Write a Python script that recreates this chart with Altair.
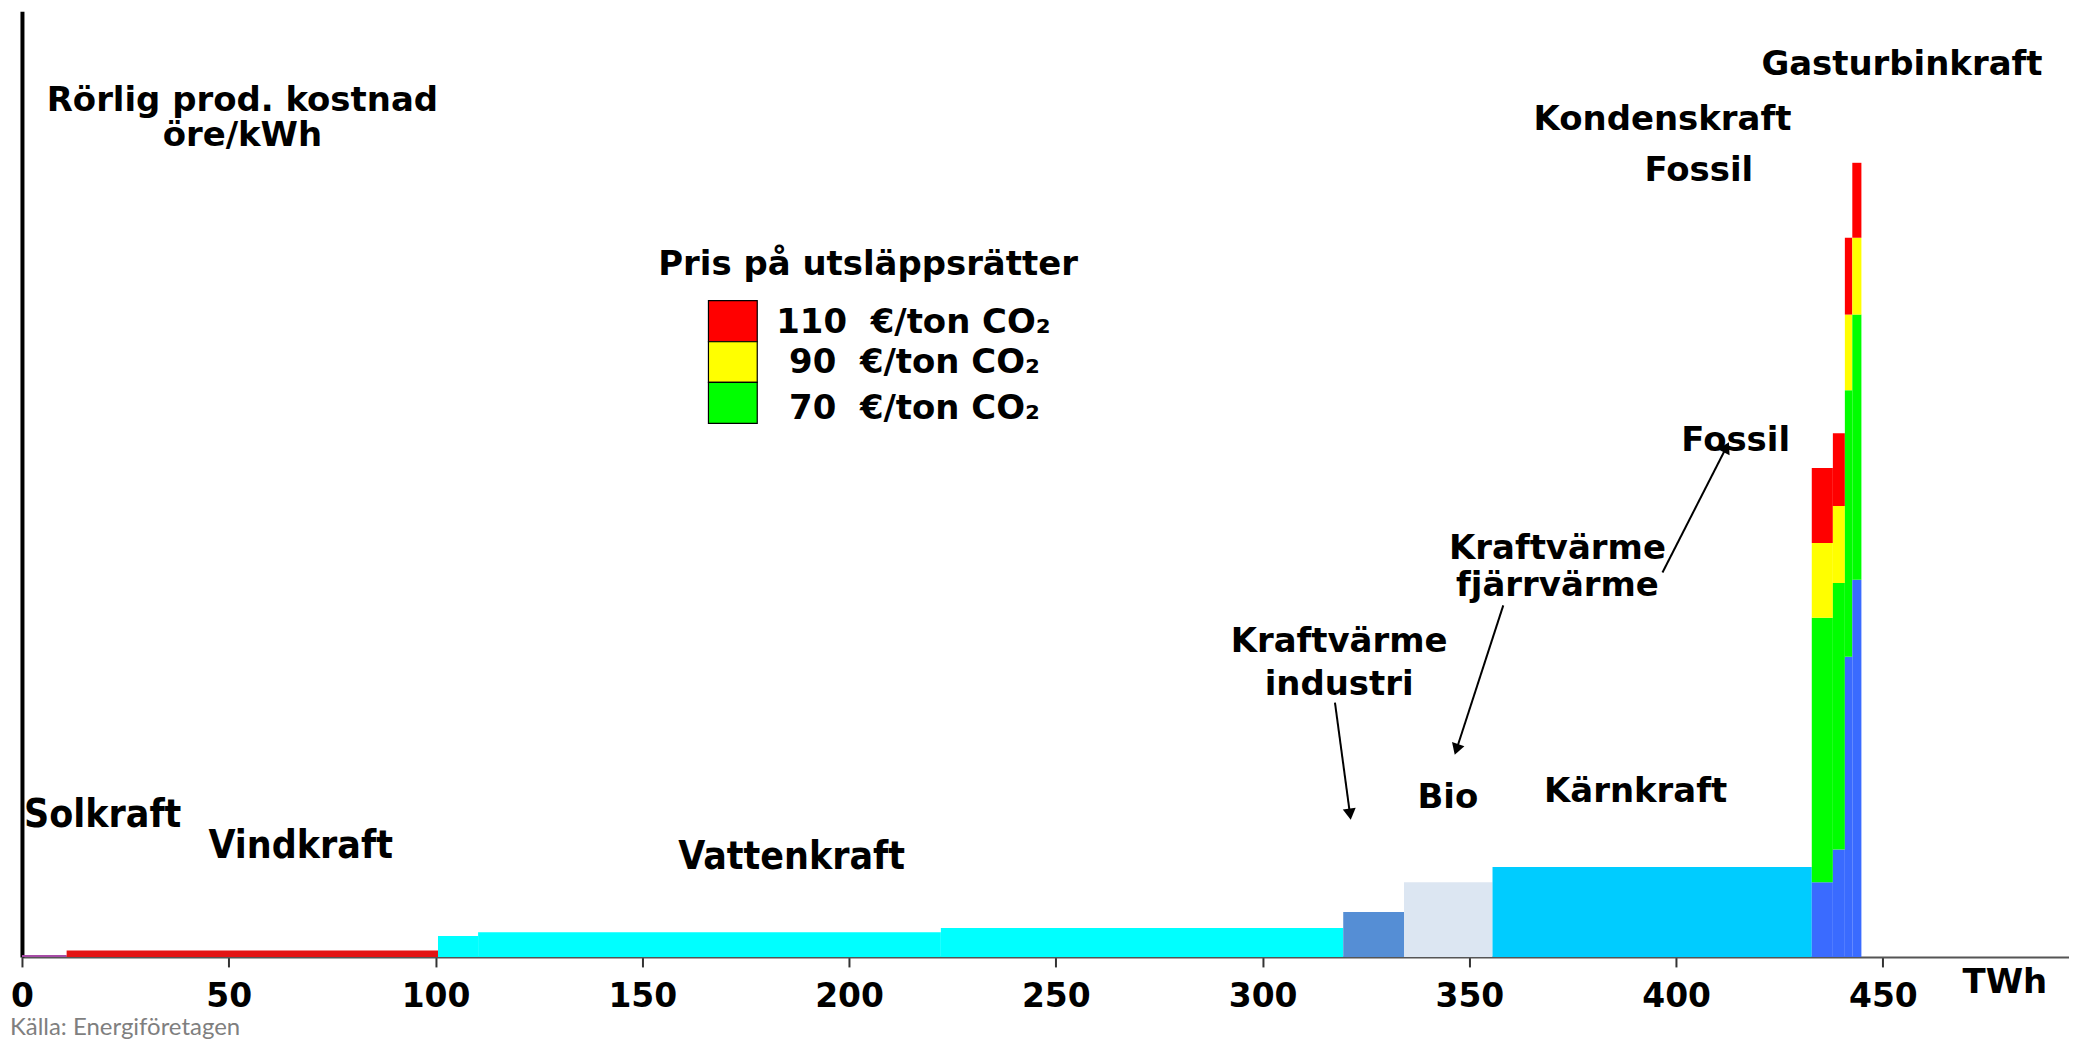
import math
import altair as alt
import pandas as pd

# ---------------- data ----------------
# Merit-order blocks: start / end (TWh) and variable production cost (öre/kWh)
block_names = ["Solkraft", "Vindkraft", "Vattenkraft", "Vattenkraft", "Vattenkraft",
               "Kraftvärme industri", "Bio", "Kärnkraft"]
block_start = [0.0, 10.8, 100.6, 110.3, 222.2, 319.5, 334.2, 355.6]
block_end = [10.8, 100.6, 110.3, 222.2, 319.5, 334.2, 355.6, 432.8]
block_cost = [0.8, 2.7, 8.9, 10.5, 12.2, 19.0, 31.6, 38.0]

# Fossil condensing / gas turbine steps: cost without CO2 and at three CO2 prices
fossil_start = [432.8, 437.9, 440.8, 442.6]
fossil_end = [437.9, 440.8, 442.6, 444.8]
fossil_base = [31.6, 45.4, 127.0, 159.5]
fossil_co2_70 = [143.5, 158.2, 239.7, 271.7]
fossil_co2_90 = [175.1, 190.7, 271.7, 304.2]
fossil_co2_110 = [206.8, 221.5, 304.2, 335.9]

x_ticks = [0, 50, 100, 150, 200, 250, 300, 350, 400, 450]

legend_title = "Pris på utsläppsrätter"
legend_labels = ["110\u00a0 €/ton CO₂", "90\u00a0 €/ton CO₂", "70\u00a0 €/ton CO₂"]

# ---------------- styles / layout ----------------
colors = {
    "Solkraft": "#a64ca6",
    "Vindkraft": "#e31414",
    "Vattenkraft": "#00ffff",
    "Kraftvärme industri": "#558ed5",
    "Bio": "#dce6f2",
    "Kärnkraft": "#00ccff",
    "base": "#3a6bff",
    "70": "#00ff00",
    "90": "#ffff00",
    "110": "#ff0000",
}

W, H = 2052, 948
XMAX, YMAX = 495, 400
PX_X = W / XMAX
PX_Y = H / YMAX

rows = []
for n, s, e, c in zip(block_names, block_start, block_end, block_cost):
    rows.append(dict(x=s, x2=e, y=0.0, y2=c, color=colors[n]))
for i in range(len(fossil_start)):
    levels = [(0.0, fossil_base[i], "base"), (fossil_base[i], fossil_co2_70[i], "70"),
              (fossil_co2_70[i], fossil_co2_90[i], "90"), (fossil_co2_90[i], fossil_co2_110[i], "110")]
    for lo, hi, k in levels:
        rows.append(dict(x=fossil_start[i], x2=fossil_end[i], y=lo, y2=hi, color=colors[k]))
rects = pd.DataFrame(rows)

# custom legend swatches (data coordinates)
leg_x0, leg_x1 = 166.0, 177.8
leg_edges = [277.6, 260.2, 243.0, 225.7]
leg_keys = ["110", "90", "70"]
legend_rects = pd.DataFrame([
    dict(x=leg_x0, x2=leg_x1, y=leg_edges[i + 1], y2=leg_edges[i], color=colors[k])
    for i, k in enumerate(leg_keys)
])

center_labels = pd.DataFrame([
    dict(t="Rörlig prod. kostnad", x=53.3, y=357.8),
    dict(t="öre/kWh", x=53.3, y=343.0),
    dict(t="Kraftvärme", x=318.5, y=129.1),
    dict(t="industri", x=318.5, y=111.0),
    dict(t="Bio", x=344.8, y=62.9),
    dict(t="Kärnkraft", x=390.2, y=65.4),
    dict(t="Kraftvärme", x=371.3, y=168.4),
    dict(t="fjärrvärme", x=371.3, y=152.7),
    dict(t="Fossil", x=414.4, y=213.9),
    dict(t="Gasturbinkraft", x=454.6, y=373.0),
    dict(t="Kondenskraft", x=396.7, y=349.8),
    dict(t="Fossil", x=405.5, y=328.3),
    dict(t=legend_title, x=204.6, y=288.6),
    dict(t="TWh", x=479.5, y=-15.2),
])

legend_text = pd.DataFrame([
    dict(t=legend_labels[0], x=182.4, y=263.7),
    dict(t=legend_labels[1], x=185.5, y=246.8),
    dict(t=legend_labels[2], x=185.5, y=227.4),
])

left_labels = pd.DataFrame([
    dict(t="Solkraft", x=0.5, y=54.9),
    dict(t="Vindkraft", x=45.1, y=41.8),
    dict(t="Vattenkraft", x=158.7, y=37.1),
])

source = pd.DataFrame([dict(t="Källa: Energiföretagen", x=-2.9, y=-33.2)])

# arrows: (x_from, y_from, x_to, y_to) in data units
arrow_list = [
    (317.5, 107.6, 321.3, 58.2),
    (358.2, 148.7, 346.5, 85.7),
    (396.7, 162.6, 412.7, 217.5),
]
arr_rows, head_rows = [], []
for x1, y1, x2, y2 in arrow_list:
    dxp = (x2 - x1) * PX_X
    dyp = -(y2 - y1) * PX_Y
    L = math.hypot(dxp, dyp)
    ux, uy = dxp / L, dyp / L
    back = 7.0
    hx = x2 - ux * back / PX_X
    hy = y2 + uy * back / PX_Y
    ang = math.degrees(math.atan2(dxp, -dyp)) % 360
    arr_rows.append(dict(x=x1, y=y1, x2=hx, y2=hy))
    head_rows.append(dict(x=hx, y=hy, angle=ang))
arrows = pd.DataFrame(arr_rows)
heads = pd.DataFrame(head_rows)

xs = alt.Scale(domain=[0, XMAX], nice=False, zero=False)
ys = alt.Scale(domain=[0, YMAX], nice=False, zero=False)

x_axis = alt.Axis(values=x_ticks, labelFont="DejaVu Sans", labelFontWeight="bold",
                  labelFontSize=33, labelColor="black", tickColor="#333333", tickWidth=2,
                  tickSize=10, domainColor="#555555", domainWidth=2, grid=False,
                  labelPadding=14, labelFlush=False, title=None)
y_axis = alt.Axis(labels=False, ticks=False, domainColor="black", domainWidth=4,
                  grid=False, title=None)

X = lambda f: alt.X(f, scale=xs, axis=x_axis)
Y = lambda f: alt.Y(f, scale=ys, axis=y_axis)

bars = alt.Chart(rects).mark_rect().encode(
    x=X("x:Q"), x2="x2:Q", y=Y("y:Q"), y2="y2:Q",
    color=alt.Color("color:N", scale=None),
)

leg = alt.Chart(legend_rects).mark_rect(stroke="black", strokeWidth=1.2).encode(
    x=X("x:Q"), x2="x2:Q", y=Y("y:Q"), y2="y2:Q",
    color=alt.Color("color:N", scale=None),
)


def text_layer(df, font, size, align, weight="bold", color="black"):
    return alt.Chart(df).mark_text(font=font, fontSize=size, fontWeight=weight, align=align,
                                   baseline="alphabetic", color=color).encode(
        x=X("x:Q"), y=Y("y:Q"), text="t:N",
    )


t_center = text_layer(center_labels, "DejaVu Sans", 34, "center")
t_legend = text_layer(legend_text, "DejaVu Sans", 34, "left")
t_left = text_layer(left_labels, "DejaVu Sans Condensed", 39, "left")
t_source = text_layer(source, "Lato", 24, "left", weight="normal", color="#7f7f7f")

arrow_lines = alt.Chart(arrows).mark_rule(color="black", strokeWidth=2).encode(
    x=X("x:Q"), x2="x2:Q", y=Y("y:Q"), y2="y2:Q",
)
arrow_heads = alt.Chart(heads).mark_point(shape="triangle", filled=True, color="black",
                                          size=170, opacity=1).encode(
    x=X("x:Q"), y=Y("y:Q"),
    angle=alt.Angle("angle:Q", scale=None),
)

chart = alt.layer(bars, leg, arrow_lines, arrow_heads, t_center, t_legend, t_left, t_source).properties(
    width=W, height=H,
    autosize=alt.AutoSizeParams(type="none"),
    padding={"left": 14, "top": 2, "right": 0, "bottom": 84},
    background="white",
).configure_view(stroke=None)

chart.save("out.html", embed_options={"renderer": "svg", "actions": False})
